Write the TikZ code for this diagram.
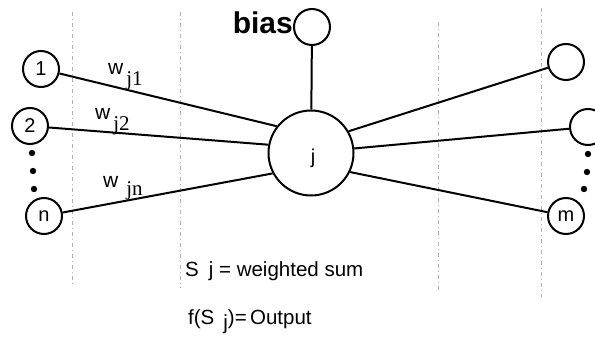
\documentclass[tikz,border=0pt]{standalone}
\usepackage{fontspec}
\setmainfont{Liberation Sans}
\newfontfamily\subfont{Liberation Serif}
\usepackage{tikz}
\usetikzlibrary{positioning}

\begin{document}
\begin{tikzpicture}[
    x=1pt, y=-1pt,
    unit/.style={draw, circle, line width=2pt, inner sep=0pt,
      minimum size=36pt, font=\fontsize{20}{20}\selectfont},
    bigunit/.style={unit, minimum size=85pt},
    conn/.style={line width=2pt},
    guide/.style={gray!60, line width=0.5pt,
      dash pattern=on 4pt off 3pt on 1pt off 3pt},
    wlbl/.style={anchor=base west, inner sep=0pt,
      font=\fontsize{21}{21}\selectfont},
    txt/.style={anchor=base west, inner sep=0pt,
      font=\fontsize{20.5}{20}\selectfont},
  ]
    \useasboundingbox (0,0) rectangle (595,339);

    % --- dotted guide lines ---
    \foreach \gx/\gtop/\gbot in {72/12/285, 180/12/288, 438/22/293, 541/8/297}
      \draw[guide] (\gx,\gtop) -- (\gx,\gbot);

    % --- units ---
    \node[bigunit] (neuron) at (311,153) {};
    \node[font=\fontsize{20}{20}\selectfont] (jlbl) at (313,158) {j};
    \node[unit] (bias) at (312,27) {};
    \node[anchor=base east, inner sep=0pt,
      font=\fontsize{30}{30}\bfseries] (biaslbl) at (293,34) {bias};

    \node[unit] (in1) at (41,69) {1};
    \node[unit] (in2) at (30,126) {2};
    \node[unit] (inn) at (44,216) {n};
    \node[unit] (out1) at (566,62) {};
    \node[unit] (out2) at (588,127) {};
    \node[unit] (outm) at (566,216) {m};

    % ellipsis dots
    \foreach \dx/\dy in {32/153, 33/171, 34/189, 588/154, 587/172, 584/189}
      \fill (\dx,\dy) circle (3.2pt);

    % --- connections ---
    \draw[conn] (bias) -- (neuron);
    \draw[conn] (in1) -- (neuron.142);
    \draw[conn] (in2) -- (neuron.169);
    \draw[conn] (inn) -- (neuron.208);
    \draw[conn] (neuron.30) -- (out1);
    \draw[conn] (neuron.6) -- (out2);
    \draw[conn] (neuron.-26) -- (outm);

    % --- weights ---
    \node[wlbl] (w1) at (108,75) {w\hspace{3pt}\raisebox{-11pt}{\subfont j1}};
    \node[wlbl] (w2) at (95,120) {w\hspace{3pt}\raisebox{-11pt}{\subfont j2}};
    \node[wlbl] (wn) at (103,188) {w\hspace{8pt}\raisebox{-8pt}{\subfont jn}};

    % --- formulas ---
    \node[txt] (sumlbl) at (185,277) {S\hspace{10pt}j = weighted sum};
    \node[txt] (outlbl) at (188,325)
      {f(S\hspace{9pt}\raisebox{-5pt}{j})=\,Output};
  \end{tikzpicture}
\end{document}
